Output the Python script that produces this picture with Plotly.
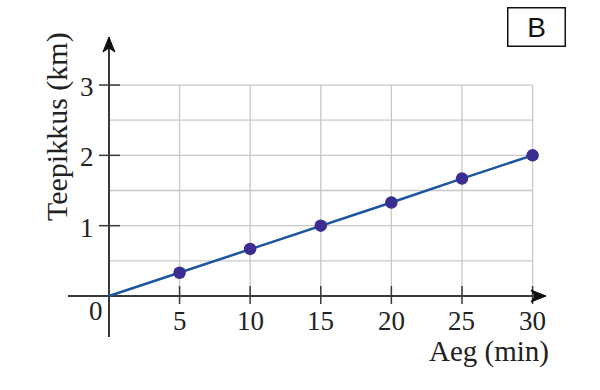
import plotly.graph_objects as go

# ---- data ----
minutes = [5, 10, 15, 20, 25, 30]
km = [0.33, 0.67, 1.0, 1.33, 1.67, 2.0]
line_x = [0, 5, 10, 15, 20, 25, 30]
line_y = [0, 0.33, 0.67, 1.0, 1.33, 1.67, 2.0]
x_ticks = [5, 10, 15, 20, 25, 30]
x_tick_labels = ["5", "10", "15", "20", "25", "30"]
y_ticks = [1, 2, 3]
y_tick_labels = ["1", "2", "3"]
x_grid = [5, 10, 15, 20, 25, 30]
y_grid = [0.5, 1, 1.5, 2, 2.5, 3]
x_title = "Aeg (min)"
y_title = "Teepikkus (km)"
badge = "B"

W, H = 600, 390
SERIF = "Liberation Serif, Times New Roman, serif"
FS = 27
AXIS_C = "#3a3a3a"
GRID_C = "#c8c8c8"

fig = go.Figure()
fig.add_trace(go.Scatter(x=line_x, y=line_y, mode="lines",
                         line=dict(color="#1b559f", width=2.5),
                         hoverinfo="skip", showlegend=False, cliponaxis=False))
fig.add_trace(go.Scatter(x=minutes, y=km, mode="markers",
                         marker=dict(color="#3b2e93", size=12.5),
                         showlegend=False, cliponaxis=False))

shapes = []
x_max = max(x_grid)
y_max = max(y_grid)
for gx in x_grid:
    shapes.append(dict(type="line", xref="x", yref="y", x0=gx, x1=gx, y0=0, y1=y_max,
                       line=dict(color=GRID_C, width=1.3), layer="below"))
for gy in y_grid:
    shapes.append(dict(type="line", xref="x", yref="y", x0=0, x1=x_max, y0=gy, y1=gy,
                       line=dict(color=GRID_C, width=1.3), layer="below"))
# tick marks crossing the axes
for tx in x_ticks:
    shapes.append(dict(type="line", xref="x", yref="y", ysizemode="pixel", yanchor=0,
                       x0=tx, x1=tx, y0=-8, y1=10,
                       line=dict(color=AXIS_C, width=1.5)))
for ty in y_ticks:
    shapes.append(dict(type="line", xref="x", yref="y", xsizemode="pixel", xanchor=0,
                       x0=-10, x1=11, y0=ty, y1=ty,
                       line=dict(color=AXIS_C, width=1.5)))

# axis ranges chosen so the domain spans the axis lines
x_range = [-2.9, 30.95]
y_range = [-0.583, 3.683]

# arrowheads
shapes.append(dict(type="path", xref="x", yref="y", xsizemode="pixel", ysizemode="pixel",
                   xanchor=x_range[1], yanchor=0,
                   path="M 0,0 L -15,-6 L -11,0 L -15,6 Z",
                   fillcolor="#111", line=dict(color="#111", width=1)))
shapes.append(dict(type="path", xref="x", yref="y", xsizemode="pixel", ysizemode="pixel",
                   xanchor=0, yanchor=y_range[1],
                   path="M 0,0 L -6,-15 L 0,-11 L 6,-15 Z",
                   fillcolor="#111", line=dict(color="#111", width=1)))

annotations = []
for tx, lab in zip(x_ticks, x_tick_labels):
    annotations.append(dict(x=tx, y=0, xref="x", yref="y", text=lab, showarrow=False,
                            yanchor="middle", xanchor="center", yshift=-25,
                            font=dict(family=SERIF, size=FS, color="#222")))
for ty, lab in zip(y_ticks, y_tick_labels):
    annotations.append(dict(x=0, y=ty, xref="x", yref="y", text=lab, showarrow=False,
                            xanchor="right", yanchor="middle", xshift=-13, yshift=-2,
                            font=dict(family=SERIF, size=FS, color="#222")))
annotations.append(dict(x=0, y=0, xref="x", yref="y", text="0", showarrow=False,
                        xanchor="center", yanchor="middle", xshift=-12.5, yshift=-15,
                        font=dict(family=SERIF, size=FS, color="#222")))
annotations.append(dict(x=489 / W, y=1 - 351 / H, xref="paper", yref="paper", text=x_title,
                        showarrow=False, xanchor="center", yanchor="middle",
                        font=dict(family=SERIF, size=29, color="#222")))
annotations.append(dict(x=57 / W, y=1 - 127 / H, xref="paper", yref="paper", text=y_title,
                        showarrow=False, xanchor="center", yanchor="middle", textangle=-90,
                        font=dict(family=SERIF, size=30, color="#222")))
annotations.append(dict(x=536.5 / W, y=1 - 27 / H, xref="paper", yref="paper", text=badge,
                        showarrow=False, xanchor="center", yanchor="middle",
                        width=52, height=33, borderpad=2, borderwidth=1.5,
                        bordercolor="#111", bgcolor="white",
                        font=dict(family="Liberation Sans, Arial, sans-serif", size=28, color="#111")))

fig.update_layout(
    width=W, height=H,
    margin=dict(l=0, r=0, t=0, b=0, autoexpand=False),
    paper_bgcolor="white", plot_bgcolor="white",
    shapes=shapes, annotations=annotations,
    xaxis=dict(domain=[68 / W, 546 / W], range=x_range, showgrid=False,
               zeroline=True, zerolinecolor=AXIS_C, zerolinewidth=1.5,
               showticklabels=False, ticks="", showline=False, fixedrange=True),
    yaxis=dict(domain=[1 - 337 / H, 1 - 37 / H], range=y_range, showgrid=False,
               zeroline=True, zerolinecolor=AXIS_C, zerolinewidth=1.5,
               showticklabels=False, ticks="", showline=False, fixedrange=True),
)

fig.write_html("out.html", config={"displayModeBar": False},
               post_script="document.body.style.margin='0';document.body.style.padding='0';")
